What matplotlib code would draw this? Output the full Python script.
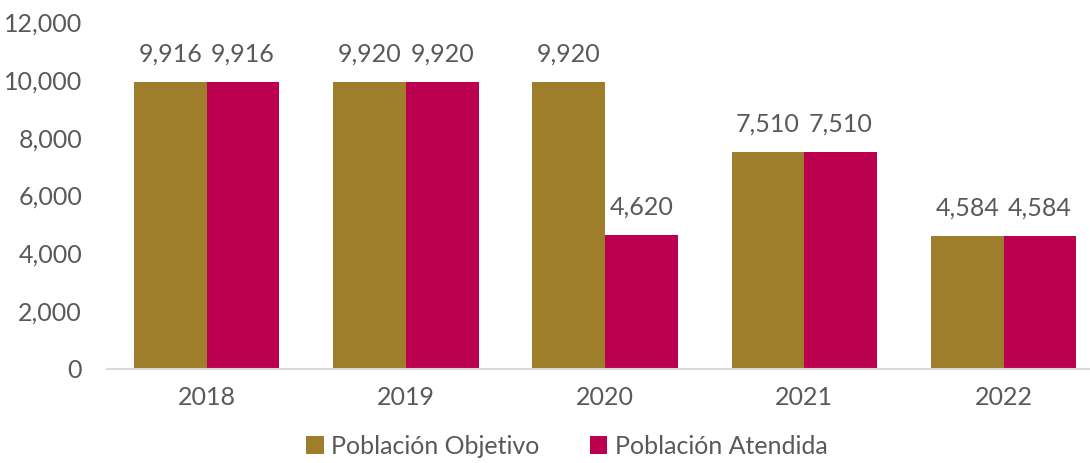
import numpy as np
import matplotlib.pyplot as plt

# Datos
anios = ['2018', '2019', '2020', '2021', '2022']
objetivo = [9916, 9920, 9920, 7510, 4584]
atendida = [9916, 9920, 4620, 7510, 4584]

plt.rcParams['font.family'] = ['Lato', 'DejaVu Sans']
gris = '#595959'
fs = 18

fig = plt.figure(figsize=(10.9, 4.63), dpi=100)
ax = fig.add_axes([107/1090, (463-369)/463, 1 - 107/1090, (369-22)/463])

x = np.arange(len(anios))
w = 0.365
b1 = ax.bar(x - w/2, objetivo, w, color='#9E7E2A', label='Población Objetivo')
b2 = ax.bar(x + w/2, atendida, w, color='#BC0050', label='Población Atendida')

for barras in (b1, b2):
    ax.bar_label(barras, labels=[f'{v:,}' for v in barras.datavalues],
                 padding=12, fontsize=fs, color=gris)

ax.set_ylim(0, 12000)
ax.set_xlim(-0.5, 4.434)
ax.set_yticks(range(0, 12001, 2000))
ax.set_yticklabels([f'{v:,}' for v in range(0, 12001, 2000)])
ax.set_xticks(x)
ax.set_xticklabels(anios)
ax.tick_params(axis='both', length=0, labelsize=fs, labelcolor=gris)
ax.tick_params(axis='y', pad=18)
ax.tick_params(axis='x', pad=12)

for lado in ['top', 'right', 'left']:
    ax.spines[lado].set_visible(False)
ax.spines['bottom'].set_color('#D9D9D9')
ax.spines['bottom'].set_linewidth(1.5)

fig.legend(loc='center', bbox_to_anchor=(0.52, 1 - 446/463), ncol=2, frameon=False,
           fontsize=fs, labelcolor=gris, handlelength=0.7, handleheight=0.7,
           handletextpad=0.3, columnspacing=2.0)

plt.savefig('out.png')
plt.close()
